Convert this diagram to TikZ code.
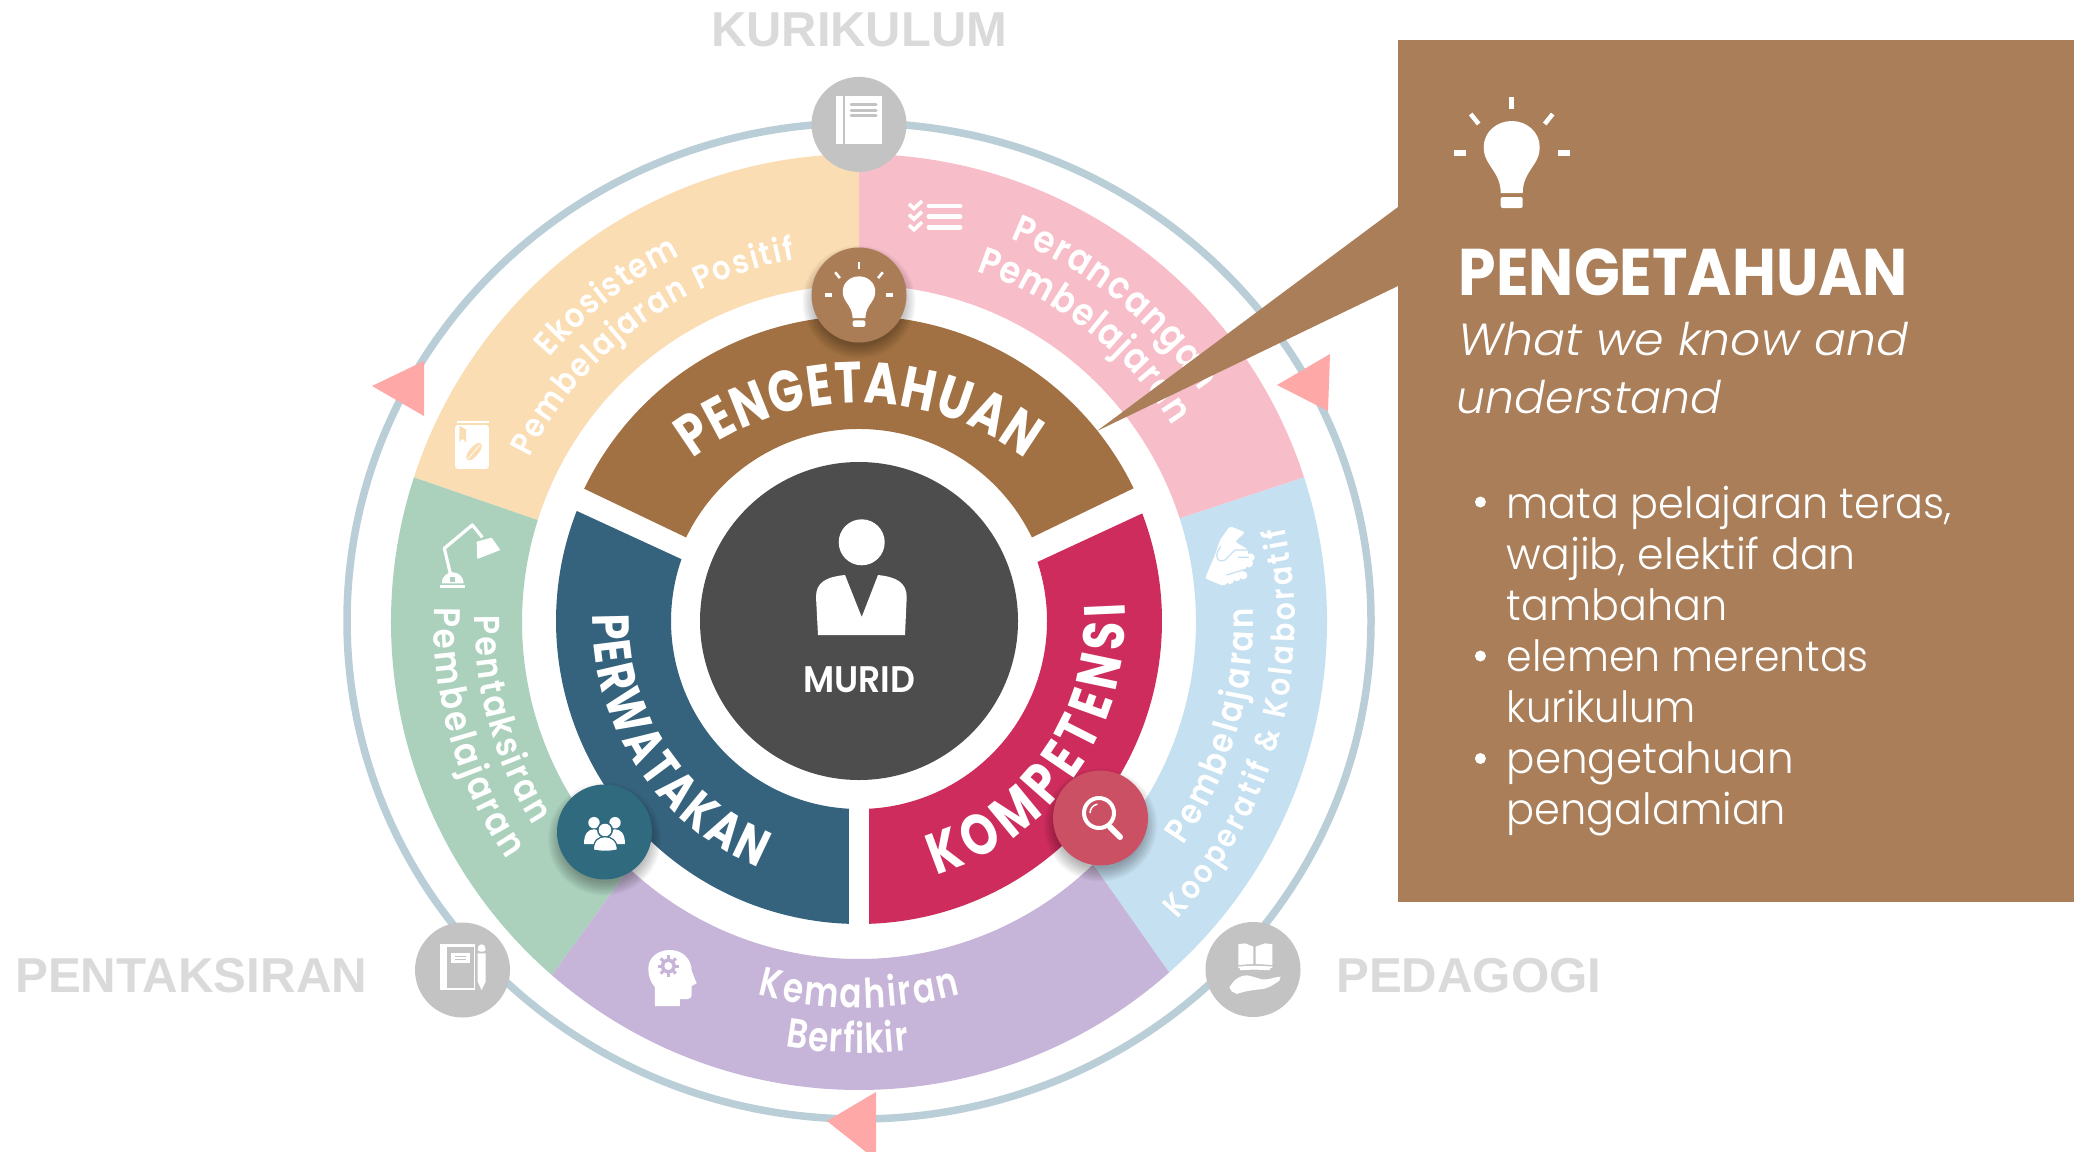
\documentclass[tikz,border=0pt]{standalone}
\usepackage{graphicx}
\usepackage{fontspec}
\setmainfont{Poppins}
\newfontfamily\popL{Poppins Light}
\newfontfamily\popLI{Poppins Light Italic}
\newfontfamily\popS{Poppins SemiBold}
\newfontfamily\popB{Poppins Bold}
\newfontfamily\popSn{Poppins Bold}[FakeStretch=0.8]
\newfontfamily\popMn{Poppins SemiBold}[FakeStretch=0.88]
\newfontfamily\popMc{Poppins SemiBold}[FakeStretch=0.8]
\newfontfamily\arb{Liberation Sans Bold}
\usetikzlibrary{decorations.text}
\definecolor{ringc}{HTML}{B9CED6}
\definecolor{yel}{HTML}{FBDDB3}
\definecolor{pnk}{HTML}{F7BEC9}
\definecolor{blu}{HTML}{C5E0F1}
\definecolor{pur}{HTML}{C6B5D8}
\definecolor{grn}{HTML}{ABD1BD}
\definecolor{brn}{HTML}{A27143}
\definecolor{tea}{HTML}{35627D}
\definecolor{cri}{HTML}{CE2C5C}
\definecolor{drk}{HTML}{4D4D4D}
\definecolor{pan}{HTML}{A97E58}
\definecolor{gry}{HTML}{C3C3C3}
\definecolor{lab}{HTML}{DADADA}
\definecolor{tri}{HTML}{FFA8A8}
\definecolor{cbrn}{HTML}{AA7D57}
\definecolor{ctea}{HTML}{306A7E}
\definecolor{cred}{HTML}{CB5064}
\newsavebox\fitbox
\newcommand\fitw[2]{\sbox\fitbox{#2}\pgfmathsetmacro\fitr{#1pt/\wd\fitbox}\scalebox{\fitr}[1]{\usebox\fitbox}}
\newcommand\fs[1]{\fontsize{#1}{#1}\selectfont}
\newcommand\arcT[7]{\path[decorate,decoration={text along path,text align={fit to path},text={|#6\color{white}|#7}}] ([shift={(#1,#2)}]#4:#3pt) arc[start angle=#4,end angle=#5,radius=#3pt];}
\newcommand\seg[7]{\fill[#1] (#2:#6pt) arc[start angle=#2,end angle=#3,radius=#6pt] -- (#5:#7pt) arc[start angle=#5,end angle=#4,radius=#7pt] -- cycle;}
\newcommand\shad[3]{\foreach \i in {0,...,8}{\fill[black,opacity=.035] (#1,#2+7) circle[radius=#3pt+9pt-1.6pt*\i];}}
\newcommand\bulbicon[3]{\begin{scope}[shift={(#1,#2)},scale=#3]
\fill[white] (-11,45) .. controls (-11,33) and (-16,26) .. (-22,17) .. controls (-26,11) and (-28,6) .. (-28,-1) .. controls (-28,-16) and (-15,-27) .. (0,-27) .. controls (15,-27) and (28,-16) .. (28,-1) .. controls (28,6) and (26,11) .. (22,17) .. controls (16,26) and (11,33) .. (11,45) -- cycle;
\fill[white,rounded corners=2pt] (-11,49) rectangle (11,60);
\fill[white] (-2.5,-51) rectangle (2.5,-39);
\fill[white] (-58,2) rectangle (-46,8);
\fill[white] (46,2) rectangle (58,8);
\draw[white,line width=4.5pt*#3] (-41,-34) -- (-33,-24);
\draw[white,line width=4.5pt*#3] (41,-34) -- (33,-24);
\end{scope}}
\begin{document}
\begin{tikzpicture}[x=1pt,y=-1pt]
\useasboundingbox (0,0) rectangle (2082,1151);
\clip (0,0) rectangle (2082,1151);
% outer ring
\draw[ringc,line width=7.5pt] (859,621) ellipse [x radius=512pt,y radius=498pt];
% triangles
\fill[tri] (424,361) -- (424,416) -- (372,386) -- cycle;
\fill[tri] (1330,354) -- (1328,411) -- (1277,385) -- cycle;
\fill[tri] (876,1092) -- (876,1160) -- (827,1121) -- cycle;
\begin{scope}[shift={(859,622)},y=1pt]
\seg{yel}{90}{162}{90}{162.4}{468}{337}
\seg{pnk}{90}{18}{90}{17.9}{468}{337}
\seg{grn}{162}{229}{162.4}{227}{468}{337}
\seg{blu}{18}{-48.5}{17.9}{-46}{468}{337}
\seg{pur}{229}{311.5}{227}{314}{468}{337}
% band text
\arcT{0}{0}{407}{139.5}{116}{\popMn\fs{34}}{Ekosistem}
\arcT{0}{0}{368}{153.5}{100}{\popMn\fs{33}}{Pembelajaran Positif}
\arcT{0}{0}{412}{68.4}{34}{\popMn\fs{38}}{Perancangan}
\arcT{0}{0}{370}{71.5}{32}{\popMn\fs{38}}{Pembelajaran}
\arcT{0}{0}{394}{-34.5}{2}{\popMn\fs{35}}{Pembelajaran}
\arcT{0}{0}{436}{-43}{12.5}{\popMn\fs{32}}{Kooperatif {\&} Kolaboratif}
\arcT{0}{0}{384}{179}{212}{\popMn\fs{36}}{Pentaksiran}
\arcT{0}{0}{425}{178}{214}{\popMn\fs{37}}{Pembelajaran}
\arcT{0}{0}{386}{254.8}{285.2}{\popMc\fs{41}}{Kemahiran}
\arcT{0}{0}{431}{260.2}{276.7}{\popMc\fs{41}}{Berfikir}
\end{scope}
% panel and callout
\coordinate (c1) at (1398,207);
\coordinate (c2) at (1398,286);
\coordinate (tip) at (1097,431);
\fill[pan] (c1) -- (tip) -- (c2) -- cycle;
\fill[pan] (1398,40) rectangle (2074,902);
% inner ring
\begin{scope}[shift={(859,621)},y=1pt]
\seg{brn}{154.3}{25.8}{154.2}{25.8}{305}{192}
\seg{tea}{158.7}{268.1}{160.8}{266.9}{303}{188}
\seg{cri}{271.9}{380.8}{273.1}{378.3}{303}{188}
\fill[drk] (0,0) circle[radius=159pt];
\arcT{0}{-59}{277}{127}{53}{\popSn\fs{58}}{PENGETAHUAN}
\arcT{0}{0}{266}{178.5}{248}{\popSn\fs{52}}{PERWATAKAN}
\arcT{0}{0}{266}{287}{364}{\popSn\fs{58}}{KOMPETENSI}
\end{scope}
% person
\fill[white] (861.7,542.3) circle[radius=23pt];
\fill[white] (818,635) -- (816,597) .. controls (816,583) and (825,577) .. (845,575) -- (861.7,617) -- (878,575) .. controls (897,577) and (906.7,583) .. (906.7,597) -- (905,635) -- cycle;
\node (murid) [anchor=base,inner sep=0,text=white] at (859,692) {\fitw{112}{\popS\fs{37}MURID}};
% gray circles
\foreach \n/\x/\y in {k/859/124.4,p/462.5/970,d/1253/969.5}{\fill[gry] (\x,\y) circle[radius=47.5pt];}
% book (top)
\fill[white] (836,96) rectangle (842.7,144);
\fill[white] (845,96) rectangle (881.7,144);
\foreach \y in {104.3,110,115.7}{\draw[gry,line width=3pt,line cap=round] (851,\y) -- (876,\y);}
% notebook + pencil
\begin{scope}[shift={(400,900)},x=0.3333pt,y=-0.3333pt]
\fill[white] (120,133) rectangle (225,270);
\fill[gry] (140,140) rectangle (221,265);
\fill[white] (153,160) rectangle (210,188);
\draw[gry,line width=1.6pt] (165,170) -- (198,170) (165,178) -- (198,178);
\fill[white,rounded corners=3pt] (233,155) -- (233,142) -- (240,133) -- (250,133) -- (257,142) -- (257,155) -- cycle;
\fill[white] (233,160) -- (257,160) -- (257,245) -- (245,270) -- (233,245) -- cycle;
\end{scope}
% open book on hand
\begin{scope}[shift={(1190,910)},x=0.3333pt,y=-0.3333pt]
\fill[white] (145,103) -- (165,100) -- (190,110) -- (190,162) -- (145,165) -- cycle;
\fill[white] (197,110) -- (225,100) -- (247,103) -- (247,165) -- (197,162) -- cycle;
\draw[white,line width=1.8pt] (145,172) -- (192,170) -- (247,172) (150,178) -- (192,176) -- (240,178);
\fill[white] (118,232) .. controls (135,205) and (150,197) .. (170,196) .. controls (185,198) and (205,205) .. (215,208) .. controls (240,210) and (255,200) .. (272,200) -- (268,212) .. controls (250,225) and (230,238) .. (210,238) .. controls (185,240) and (160,245) .. (140,252) -- (125,244) -- cycle;
\end{scope}
% checklist
\foreach \y in {206,216.7,227.3}{\draw[white,line width=4.8pt,line cap=round] (929,\y) -- (960,\y);}
\foreach \y in {204,214.6,225.2}{\draw[white,line width=3.6pt] (909,\y) -- (914,\y+4.5) -- (922,\y-3);}
% book with leaf
\begin{scope}[shift={(420,400)},x=0.3333pt,y=-0.3333pt]
\fill[white,rounded corners=3pt] (105,75) rectangle (207,207);
\fill[white] (112,64) rectangle (207,68);
\draw[yel,line width=1pt] (112,72) -- (207,72);
\fill[yel] (118,78) -- (118,125) -- (128,116) -- (138,127) -- (138,88) -- cycle;
\fill[yel,rotate around={50:(162,155)}] (162,155) ellipse [x radius=32,y radius=14];
\draw[white,line width=0.8pt] (142,178) -- (180,135);
\end{scope}
% lamp
\begin{scope}[shift={(420,400)},x=0.3333pt,y=-0.3333pt]
\draw[white,line width=3.2pt,line join=round] (92,525) -- (73,445) -- (157,375) -- (187,412);
\fill[white] (170,425) -- (215,413) -- (241,450) -- (172,477) -- cycle;
\fill[white] (65,550) arc[start angle=180,end angle=360,x radius=33,y radius=33] -- cycle;
\fill[grn] (90,532) rectangle (104,545);
\fill[white] (60,556) rectangle (135,563);
\end{scope}
% head with gear
\begin{scope}[shift={(400,900)},x=0.3333pt,y=-0.3333pt]
\fill[white] (765,318) -- (765,262) .. controls (750,245) and (745,225) .. (745,205) .. controls (745,172) and (775,150) .. (810,150) .. controls (850,150) and (875,180) .. (875,212) -- (890,250) -- (875,258) -- (875,285) .. controls (875,293) and (870,297) .. (862,297) -- (840,297) -- (840,318) -- cycle;
\foreach \a in {0,45,...,315}{\draw[pur,line width=3pt] (805,198) -- ++(\a:32);}
\fill[pur] (805,198) circle[radius=7.5pt];
\fill[white] (805,198) circle[radius=4pt];
\end{scope}
% handshake
\begin{scope}[shift={(1180,500)},x=0.3333pt,y=-0.3333pt]
\fill[white,rounded corners=2pt] (150,78) -- (195,97) -- (165,125) -- (190,140) -- (205,150) -- (200,205) -- (130,258) -- (75,235) -- (105,165) -- (120,120) -- cycle;
\foreach \x/\y in {150/240,170/232,190/226,207/190,212/172}{\fill[white] (\x,\y) circle[radius=4pt];}
\draw[blu,line width=1.2pt,line cap=round] (122,140) .. controls (100,165) and (112,192) .. (135,180) -- (165,150) -- (205,150) (140,225) -- (205,205) (175,172) -- (205,172);
\end{scope}
% big bulb
\bulbicon{1511.7}{148}{1}
% panel text
\node (ttl) [anchor=base west,inner sep=0,text=white] at (1458.7,295) {\fitw{449}{\popB\fs{66}PENGETAHUAN}};
\node (sub1) [anchor=base west,inner sep=0,text=white] at (1457.8,355) {\fitw{450}{\popLI\fs{45}What we know and}};
\node (sub2) [anchor=base west,inner sep=0,text=white] at (1456.5,413) {\fitw{264.4}{\popLI\fs{45}understand}};
\foreach \y in {502,656,758.5}{\fill[white] (1480.4,\y) circle[radius=5.5pt];}
\node (b1) [anchor=base west,inner sep=0,text=white] at (1506.5,518) {\fitw{444.8}{\popL\fs{43}mata pelajaran teras,}};
\node (b2) [anchor=base west,inner sep=0,text=white] at (1506.5,569) {\fitw{349.2}{\popL\fs{43}wajib, elektif dan}};
\node (b3) [anchor=base west,inner sep=0,text=white] at (1506.5,620) {\fitw{220.5}{\popL\fs{43}tambahan}};
\node (b4) [anchor=base west,inner sep=0,text=white] at (1506.5,671) {\fitw{362.2}{\popL\fs{43}elemen merentas}};
\node (b5) [anchor=base west,inner sep=0,text=white] at (1506.5,722) {\fitw{189.2}{\popL\fs{43}kurikulum}};
\node (b6) [anchor=base west,inner sep=0,text=white] at (1506.5,773) {\fitw{287}{\popL\fs{43}pengetahuan}};
\node (b7) [anchor=base west,inner sep=0,text=white] at (1506.5,824) {\fitw{279.5}{\popL\fs{43}pengalamian}};
% gray labels
\node (lk) [anchor=base west,inner sep=0,text=lab] at (711,46) {\fitw{296}{\arb\fs{49}KURIKULUM}};
\node (lp) [anchor=base west,inner sep=0,text=lab] at (15,992) {\fitw{352}{\arb\fs{49}PENTAKSIRAN}};
\node (ld) [anchor=base west,inner sep=0,text=lab] at (1336,992) {\fitw{265}{\arb\fs{49}PEDAGOGI}};
% coloured circles with shadow
\shad{859}{295}{47.5}
\fill[cbrn] (859,295) circle[radius=47.5pt];
\bulbicon{859}{292}{0.58}
\shad{604.5}{832}{47.5}
\fill[ctea] (604.5,832) circle[radius=47.5pt];
\begin{scope}[shift={(540,770)},x=0.3333pt,y=-0.3333pt]
\foreach \x/\w in {162/1,225/1}{\fill[white] (\x,158) circle[radius=5.7pt];}
\fill[white] (132,222) .. controls (132,190) and (145,178) .. (162,178) .. controls (180,178) and (192,190) .. (192,222) -- cycle;
\fill[white] (195,222) .. controls (195,190) and (208,178) .. (225,178) .. controls (242,178) and (255,190) .. (255,222) -- cycle;
\fill[ctea] (195,180) circle[radius=8pt];
\fill[white] (195,180) circle[radius=6.3pt];
\draw[ctea,line width=1.2pt,fill=white] (160,240) .. controls (160,212) and (175,200) .. (195,200) .. controls (215,200) and (232,212) .. (232,240) .. controls (215,245) and (177,245) .. (160,240) -- cycle;
\end{scope}
\shad{1100.5}{818}{47.5}
\fill[cred] (1100.5,818) circle[radius=47.5pt];
\draw[white,line width=4pt] (1099,813) circle[radius=15pt];
\draw[white,line width=1.5pt] (1090,813) arc[start angle=180,end angle=100,radius=9pt];
\draw[white,line width=6pt,line cap=round] (1110,827) -- (1120,837);
\end{tikzpicture}
\end{document}
